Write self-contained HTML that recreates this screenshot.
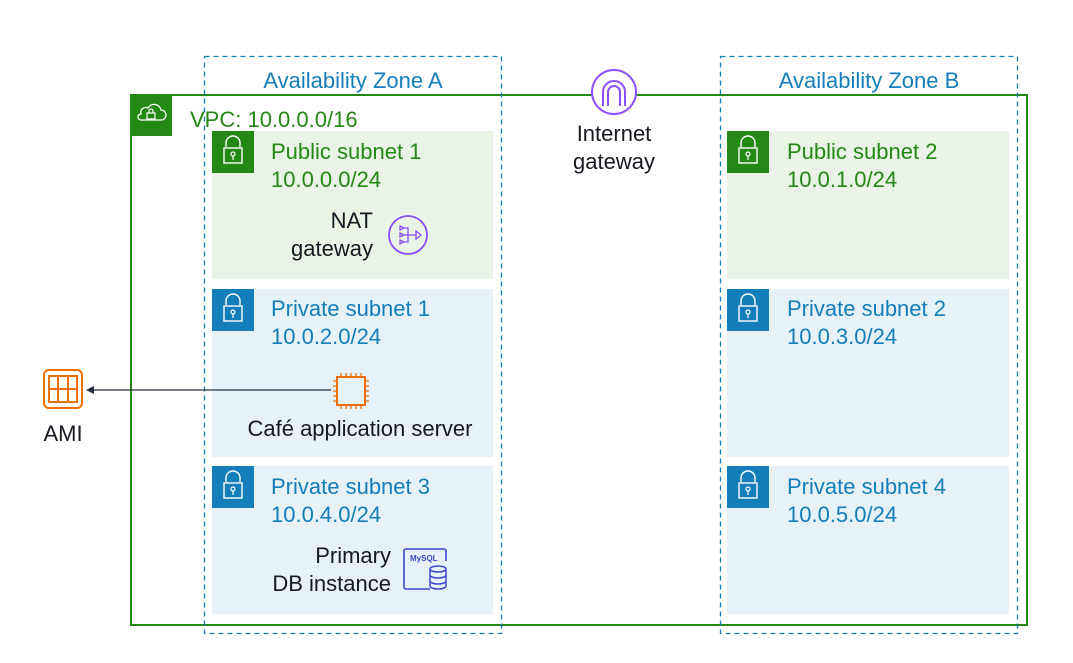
<!DOCTYPE html>
<html><head><meta charset="utf-8"><style>
body{margin:0;background:#fff;}
svg text{font-family:"Liberation Sans","DejaVu Sans",sans-serif;font-size:22px;}
</style></head><body>
<svg width="1073" height="658" viewBox="0 0 1073 658" xmlns="http://www.w3.org/2000/svg">
<rect x="0" y="0" width="1073" height="658" fill="#fff"/>
<rect x="212" y="131" width="281" height="148" fill="#e9f3e6"/>
<rect x="212" y="289" width="281" height="168" fill="#e6f2f8"/>
<rect x="212" y="466" width="281" height="148" fill="#e6f2f8"/>
<rect x="727" y="131" width="282" height="148" fill="#e9f3e6"/>
<rect x="727" y="289" width="282" height="168" fill="#e6f2f8"/>
<rect x="727" y="466" width="282" height="148" fill="#e6f2f8"/>
<rect x="131" y="95" width="896" height="530" fill="none" stroke="#248814" stroke-width="2"/>
<rect x="130" y="94" width="42" height="42" fill="#248814"/>
<path d="M141 120 h20 a5 5 0 0 0 0-10 a7 7 0 0 0-13-2 a5 5 0 0 0-7 6 a3 3 0 0 0 0 6z" fill="none" stroke="#fff" stroke-width="1.3"/>
<rect x="147" y="113" width="8" height="6" fill="none" stroke="#fff" stroke-width="1.2"/>
<path d="M149 113 v-2 a2 2 0 0 1 4 0 v2" fill="none" stroke="#fff" stroke-width="1.2"/>
<text x="190" y="127" fill="#248814">VPC: 10.0.0.0/16</text>
<rect x="204.5" y="56.5" width="297" height="577" fill="none" stroke="#147eba" stroke-width="1.3" stroke-dasharray="5,4"/>
<rect x="720.5" y="56.5" width="297" height="577" fill="none" stroke="#147eba" stroke-width="1.3" stroke-dasharray="5,4"/>
<text x="353" y="88" fill="#147eba" text-anchor="middle">Availability Zone A</text>
<text x="869" y="88" fill="#147eba" text-anchor="middle">Availability Zone B</text>
<defs>
<g id="lock"><path d="M14 16 v-4 a7 7 0 0 1 14 0 v4" fill="none" stroke="#fff" stroke-width="1.4"/><rect x="12" y="17" width="18" height="15" fill="none" stroke="#fff" stroke-width="1.4"/><circle cx="21" cy="23" r="2" fill="none" stroke="#fff" stroke-width="1.2"/><path d="M21 25 v4" stroke="#fff" stroke-width="1.2"/></g>
</defs>
<rect x="212" y="131" width="42" height="42" fill="#248814"/><use href="#lock" x="212" y="131"/>
<rect x="727" y="131" width="42" height="42" fill="#248814"/><use href="#lock" x="727" y="131"/>
<rect x="212" y="289" width="42" height="42" fill="#147eba"/><use href="#lock" x="212" y="289"/>
<rect x="727" y="289" width="42" height="42" fill="#147eba"/><use href="#lock" x="727" y="289"/>
<rect x="212" y="466" width="42" height="42" fill="#147eba"/><use href="#lock" x="212" y="466"/>
<rect x="727" y="466" width="42" height="42" fill="#147eba"/><use href="#lock" x="727" y="466"/>
<g fill="#248814"><text x="271" y="159">Public subnet 1</text><text x="271" y="187">10.0.0.0/24</text>
<text x="787" y="159">Public subnet 2</text><text x="787" y="187">10.0.1.0/24</text></g>
<g fill="#147eba"><text x="271" y="316">Private subnet 1</text><text x="271" y="344">10.0.2.0/24</text>
<text x="787" y="316">Private subnet 2</text><text x="787" y="344">10.0.3.0/24</text>
<text x="271" y="494">Private subnet 3</text><text x="271" y="522">10.0.4.0/24</text>
<text x="787" y="494">Private subnet 4</text><text x="787" y="522">10.0.5.0/24</text></g>
<circle cx="614" cy="92" r="22" fill="#fff" stroke="#8c4fff" stroke-width="2"/>
<path d="M603 106 v-14 a11 11 0 0 1 22 0 v14 M608 106 v-14 a6 6 0 0 1 12 0 v14" fill="none" stroke="#8c4fff" stroke-width="2"/>
<text x="614" y="141" text-anchor="middle" fill="#16191f">Internet</text>
<text x="614" y="169" text-anchor="middle" fill="#16191f">gateway</text>
<text x="373" y="228" text-anchor="end" fill="#16191f">NAT</text>
<text x="373" y="256" text-anchor="end" fill="#16191f">gateway</text>
<circle cx="408" cy="235" r="19" fill="none" stroke="#8c4fff" stroke-width="1.8"/>
<path d="M400 226 l4 2 l-4 2z M400 233 l4 2 l-4 2z M400 240 l4 2 l-4 2z M404 228 h4 v14 h-4 M404 235 h12 M416 231 l5 4 l-5 4z" fill="none" stroke="#8c4fff" stroke-width="1.3"/>
<rect x="337" y="377" width="28" height="28" fill="none" stroke="#ed7100" stroke-width="2"/>
<g stroke="#ed7100" stroke-width="1.3">
<path d="M341 377v-4M346 377v-4M351 377v-4M356 377v-4M361 377v-4 M341 405v4M346 405v4M351 405v4M356 405v4M361 405v4 M337 381h-4M337 386h-4M337 391h-4M337 396h-4M337 401h-4 M365 381h4M365 386h4M365 391h4M365 396h4M365 401h4"/></g>
<text x="360" y="436" text-anchor="middle" fill="#16191f">Café application server</text>
<line x1="331" y1="390" x2="92" y2="390" stroke="#232f3e" stroke-width="1.2"/>
<path d="M86 390 l8-4 v8z" fill="#232f3e"/>
<rect x="44" y="370" width="38" height="38" rx="5" fill="none" stroke="#ed7100" stroke-width="2"/>
<rect x="49" y="376" width="28" height="26" fill="none" stroke="#ed7100" stroke-width="2"/>
<path d="M49 389h28M58 376v26M68 376v26" stroke="#ed7100" stroke-width="2"/>
<text x="63" y="441" text-anchor="middle" fill="#16191f">AMI</text>
<text x="391" y="563" text-anchor="end" fill="#16191f">Primary</text>
<text x="391" y="591" text-anchor="end" fill="#16191f">DB instance</text>
<path d="M430 589 h-24 a2 2 0 0 1-2-2 v-36 a2 2 0 0 1 2-2 h38 a2 2 0 0 1 2 2 v10" fill="none" stroke="#3b48cc" stroke-width="1.6"/>
<text x="410" y="561" fill="#3b48cc" style="font-size:8px;font-weight:bold">MySQL</text>
<ellipse cx="438" cy="569" rx="8" ry="3" fill="none" stroke="#3b48cc" stroke-width="1.5"/>
<path d="M430 569v17a8 3 0 0 0 16 0v-17M430 575a8 3 0 0 0 16 0M430 581a8 3 0 0 0 16 0" fill="none" stroke="#3b48cc" stroke-width="1.5"/>
</svg>
</body></html>
